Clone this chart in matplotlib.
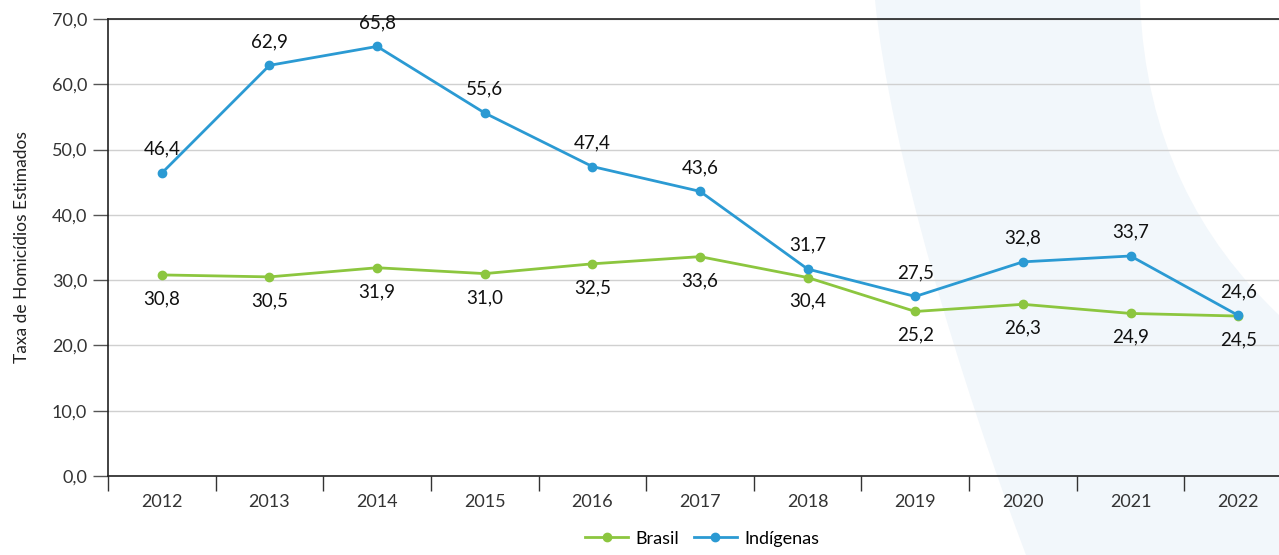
import matplotlib
matplotlib.use("Agg")
import matplotlib.pyplot as plt
from matplotlib.patches import PathPatch
from matplotlib.path import Path
import numpy as np

plt.rcParams['font.family'] = ['Lato', 'DejaVu Sans']

years = ["2012", "2013", "2014", "2015", "2016", "2017", "2018", "2019", "2020", "2021", "2022"]
brasil = [30.8, 30.5, 31.9, 31.0, 32.5, 33.6, 30.4, 25.2, 26.3, 24.9, 24.5]
indigenas = [46.4, 62.9, 65.8, 55.6, 47.4, 43.6, 31.7, 27.5, 32.8, 33.7, 24.6]
yticks = [0, 10, 20, 30, 40, 50, 60, 70]

W, H = 1279, 555
fig = plt.figure(figsize=(W / 100, H / 100), dpi=100)

ax = fig.add_axes([108 / W, 1 - 476 / H, (1292 - 108) / W, (476 - 19) / H])
ax.set_facecolor('none')

# background decorative band (smooth curved shape)
band_px = [(875, 0), (890, 150), (960, 380), (1026, 555),
           (1279, 555), (1279, 315),
           (1200, 240), (1145, 140), (1140, 0),
           (875, 0)]
codes = [Path.MOVETO, Path.CURVE4, Path.CURVE4, Path.CURVE4,
         Path.LINETO, Path.LINETO,
         Path.CURVE4, Path.CURVE4, Path.CURVE4,
         Path.CLOSEPOLY]
verts = [(px / W, 1 - py / H) for px, py in band_px]
ax.add_patch(PathPatch(Path(verts, codes), transform=fig.transFigure, clip_on=False,
                       facecolor='#f2f7fb', edgecolor='none', zorder=0.1))

x = np.arange(len(years))
blue = '#2b9ad3'
green = '#8cc63f'
ax.plot(x, brasil, color=green, lw=2, marker='o', ms=6, label='Brasil', zorder=3)
ax.plot(x, indigenas, color=blue, lw=2, marker='o', ms=6, label='Indígenas', zorder=4)

fs = 13.5
for xi, v in zip(x, indigenas):
    ax.annotate(f"{v:.1f}".replace('.', ','), (xi, v), xytext=(0, 11), textcoords='offset points',
                ha='center', va='bottom', fontsize=fs, color='#111111')
for xi, v in zip(x, brasil):
    ax.annotate(f"{v:.1f}".replace('.', ','), (xi, v), xytext=(0, -11), textcoords='offset points',
                ha='center', va='top', fontsize=fs, color='#111111')

ax.set_xlim(-0.5, 10.5)
ax.set_ylim(0, 70)
ax.set_yticks(yticks)
ax.set_yticklabels([f"{t:.1f}".replace('.', ',') for t in yticks], fontsize=13, color='#333333')
ax.set_xticks(x)
ax.set_xticklabels(years, fontsize=13, color='#333333')
ax.set_xticks(np.arange(-0.5, 10.0, 1.0), minor=True)
ax.tick_params(axis='x', which='major', length=0, pad=13)
ax.tick_params(axis='x', which='minor', length=11, width=1, color='#333333', direction='out')
ax.tick_params(axis='y', length=11, width=1, color='#555555', pad=4)

ax.grid(axis='y', color='#d0d0d0', lw=1, zorder=0.5)
ax.set_axisbelow(True)
for s in ['top', 'left', 'bottom']:
    ax.spines[s].set_color('#222222')
    ax.spines[s].set_linewidth(1.2)
ax.spines['right'].set_visible(False)

ax.set_ylabel('Taxa de Homicídios Estimados', fontsize=12.5, color='#222222', labelpad=16)

fig.legend(loc='lower center', bbox_to_anchor=(0.549, -0.014), ncol=2, frameon=False,
           fontsize=13, handlelength=2.4, columnspacing=0.8, handletextpad=0.4)

fig.savefig('out.png', dpi=100)
